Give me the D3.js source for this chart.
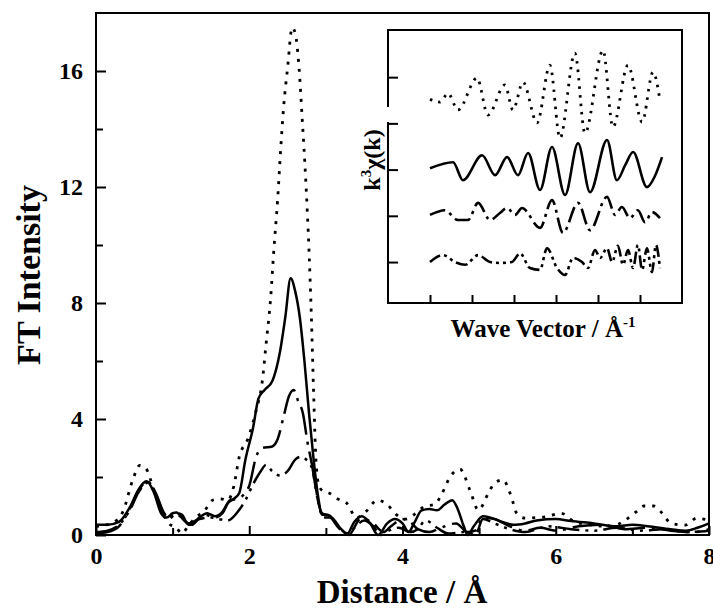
<!DOCTYPE html>
<meta charset="utf-8">
<script src="https://d3js.org/d3.v7.min.js"></script>
<style>
  body { margin: 0; background: #fff; }
  text { font-family: "Liberation Serif", "Times New Roman", serif; font-weight: bold; fill: #000; }
</style>
<div id="chart"></div>
<script>

// ---- main plot: FT magnitude vs distance, [r, |FT|] pairs ----
var ftDotted = [[0,0.3],[0.2,0.4],[0.35,0.8],[0.48,1.9],[0.57,2.4],[0.65,2.3],[0.75,1.6],[0.85,0.9],[0.95,0.4],
  [1.05,0.25],[1.12,0.05],[1.2,0.3],[1.3,0.6],[1.42,0.85],[1.52,1.2],[1.62,1.25],[1.72,1.2],[1.8,1.7],[1.87,2.7],
  [1.98,3.3],[2.09,4.3],[2.17,5.3],[2.22,6.6],[2.28,8.2],[2.32,9.8],[2.37,11.55],[2.41,13.3],[2.45,14.8],[2.5,16.1],
  [2.56,17.5],[2.6,17.3],[2.65,16.1],[2.69,14.4],[2.74,12.1],[2.78,9.8],[2.81,7.6],[2.84,4.9],[2.87,2.6],[2.91,1.7],
  [2.97,1.5],[3.04,1.45],[3.15,1.25],[3.27,1.1],[3.4,0.6],[3.52,0.8],[3.67,1.2],[3.8,1.05],[3.92,0.7],[4.05,0.55],
  [4.15,0.7],[4.3,1.0],[4.42,1.05],[4.51,1.4],[4.62,2.0],[4.75,2.27],[4.88,1.55],[4.99,0.86],[5.12,1.44],[5.2,1.79],
  [5.31,1.9],[5.42,1.32],[5.49,0.75],[5.6,0.58],[5.75,0.6],[5.87,0.63],[6.07,0.75],[6.24,0.46],[6.45,0.35],[6.72,0.29],
  [6.91,0.52],[7.05,0.8],[7.15,1.0],[7.28,1.0],[7.39,0.75],[7.5,0.41],[7.69,0.34],[7.84,0.58],[8.0,0.5]];

var ftSolid = [[0,0.35],[0.15,0.35],[0.3,0.45],[0.45,1.0],[0.55,1.55],[0.66,1.85],[0.75,1.5],[0.85,0.75],[0.92,0.6],
  [1.0,0.75],[1.05,0.78],[1.15,0.5],[1.25,0.35],[1.35,0.6],[1.45,0.75],[1.55,0.65],[1.65,0.8],[1.72,1.1],[1.8,1.25],
  [1.87,1.45],[1.95,2.6],[2.05,3.7],[2.12,4.7],[2.2,5.0],[2.3,5.3],[2.4,6.3],[2.47,7.5],[2.54,8.85],[2.6,8.4],
  [2.66,7.5],[2.72,6.0],[2.78,4.2],[2.84,2.6],[2.9,1.3],[2.95,0.7],[3.02,0.7],[3.1,0.55],[3.2,0.2],[3.28,0.05],
  [3.37,0.45],[3.47,0.65],[3.58,0.4],[3.68,0.0],[3.8,0.4],[3.9,0.55],[4.0,0.4],[4.08,0.1],[4.15,0.4],[4.25,0.85],
  [4.35,0.9],[4.45,0.85],[4.55,1.05],[4.65,1.2],[4.72,0.9],[4.8,0.3],[4.85,0.0],[4.93,0.3],[5.05,0.65],[5.15,0.6],
  [5.3,0.45],[5.45,0.35],[5.6,0.4],[5.75,0.5],[6.0,0.55],[6.2,0.48],[6.5,0.4],[6.8,0.3],[7.0,0.35],[7.2,0.3],
  [7.5,0.2],[7.7,0.15],[7.85,0.25],[8.0,0.4]];

var ftDashDot = [[0,0.05],[0.15,0.1],[0.3,0.3],[0.45,0.95],[0.55,1.5],[0.67,1.85],[0.78,1.45],[0.88,0.8],[0.95,0.55],
  [1.05,0.75],[1.12,0.7],[1.2,0.4],[1.3,0.5],[1.42,0.7],[1.55,0.6],[1.65,0.75],[1.75,1.2],[1.85,1.25],[1.93,1.4],
  [2.0,1.7],[2.09,2.7],[2.17,3.0],[2.3,3.05],[2.37,3.3],[2.45,4.1],[2.52,4.8],[2.58,5.0],[2.64,4.6],[2.7,4.2],
  [2.76,3.2],[2.82,2.4],[2.88,1.4],[2.95,0.75],[3.05,0.65],[3.15,0.35],[3.3,0.0],[3.45,0.55],[3.6,0.45],[3.75,0.1],
  [3.85,0.3],[4.0,0.55],[4.1,0.45],[4.2,0.2],[4.35,0.1],[4.5,0.25],[4.7,0.4],[4.85,0.1],[4.95,0.15],[5.05,0.6],
  [5.2,0.55],[5.4,0.3],[5.6,0.15],[5.8,0.25],[6.0,0.15],[6.3,0.3],[6.6,0.35],[6.9,0.2],[7.2,0.25],[7.5,0.15],
  [7.8,0.1],[8.0,0.2]];

var ftDashDotDot = [[0,0.1],[0.15,0.15],[0.3,0.35],[0.45,0.9],[0.55,1.45],[0.67,1.8],[0.78,1.4],[0.88,0.75],[0.95,0.6],
  [1.03,0.7],[1.12,0.6],[1.22,0.35],[1.35,0.55],[1.5,0.6],[1.6,0.55],[1.72,0.5],[1.85,0.8],[1.95,1.2],[2.05,1.75],
  [2.15,2.2],[2.22,2.42],[2.3,2.2],[2.4,2.05],[2.5,2.2],[2.6,2.6],[2.68,2.7],[2.76,2.55],[2.82,2.3],[2.87,1.6],
  [2.92,0.9],[2.97,0.6],[3.05,0.6],[3.15,0.3],[3.25,0.05],[3.35,0.2],[3.5,0.5],[3.62,0.3],[3.72,0.0],[3.82,0.15],
  [3.95,0.25],[4.1,0.1],[4.2,0.2],[4.3,0.5],[4.45,0.25],[4.6,0.05],[4.8,0.1],[4.95,0.0],[5.05,0.55],[5.2,0.4],
  [5.4,0.2],[5.6,0.1],[5.9,0.3],[6.2,0.2],[6.5,0.15],[6.8,0.25],[7.1,0.15],[7.4,0.2],[7.7,0.1],[8.0,0.15]];

var xTicks = [0, 2, 4, 6, 8];
var yTicks = [0, 4, 8, 12, 16];

// ---- inset: k^3 chi(k) vs k, [k, chi] pairs (before vertical offset) ----
var chiDotted = [[2.0,-0.03],[2.48,-0.09],[2.86,0.10],[3.33,-0.26],[4.24,0.43],[4.76,-0.37],[5.57,0.28],[5.95,-0.26],
  [6.43,0.34],[7.10,-0.54],[7.71,0.71],[8.19,-0.87],[8.90,0.97],[9.38,-0.76],[10.24,1.03],[10.71,-0.63],
  [11.43,0.71],[12.10,-0.52],[12.62,0.56],[12.95,-0.05]];
var chiSolid = [[2.0,0.03],[3.10,0.16],[3.57,-0.23],[4.48,0.31],[5.10,-0.12],[5.67,0.27],[6.19,-0.12],[6.67,0.36],
  [7.24,-0.44],[7.81,0.49],[8.43,-0.55],[9.05,0.57],[9.62,-0.49],[10.43,0.64],[10.90,-0.23],[11.3,0.1],[11.67,0.38],
  [12.33,-0.38],[12.7,-0.15],[13.05,0.27]];
var chiDashDot = [[2.0,0.02],[2.71,0.12],[3.33,-0.09],[3.81,-0.09],[4.29,0.28],[4.86,-0.09],[5.33,0.06],[5.67,0.17],
  [6.05,0.02],[6.38,0.17],[7.24,-0.26],[7.81,0.34],[8.33,-0.37],[9.05,0.28],[9.62,-0.31],[10.43,0.41],[10.81,0.02],
  [11.14,0.19],[11.52,-0.05],[11.90,0.12],[12.24,-0.14],[12.57,0.08],[12.95,-0.05]];
var chiDashDotDot = [[2.0,0],[2.62,0.15],[3.19,0],[3.67,-0.06],[4.29,0.15],[4.86,0],[5.33,-0.02],[5.90,0],[6.29,0.19],
  [6.76,-0.13],[7.24,-0.17],[7.57,0.30],[8.05,-0.13],[8.43,-0.28],[8.81,0.09],[9.24,0],[9.52,-0.13],[9.86,0.26],
  [10.10,0.09],[10.43,0.30],[10.67,0],[10.95,0.35],[11.19,-0.06],[11.43,0.26],[11.67,-0.13],[11.90,0.37],
  [12.10,-0.17],[12.33,0.30],[12.57,-0.22],[12.76,0.37],[12.95,-0.13]];
var insetOffsets = [3.55, 2, 1, 0];
var kTicks = [2, 4, 6, 8, 10, 12];
var chiTicks = [0, 1, 2, 3, 4];

var svg = d3.select("#chart").append("svg")
    .attr("width", 713)
    .attr("height", 611);

// main scales
var x = d3.scaleLinear().domain([0, 8]).range([96, 709]);
var y = d3.scaleLinear().domain([0, 18]).range([535, 13]);

var styles = [
  {dash: "3,7", width: 2.8},
  {dash: null, width: 2.5},
  {dash: "28,7,3,7", width: 2.5},
  {dash: "22,6,3,6,3,6", width: 2.5}
];

var line = d3.line()
    .x(function(d) { return x(d[0]); })
    .y(function(d) { return y(d[1]); })
    .curve(d3.curveMonotoneX);

[ftDotted, ftSolid, ftDashDot, ftDashDotDot].forEach(function(s, i) {
  svg.append("path")
      .attr("d", line(s))
      .attr("fill", "none")
      .attr("stroke", "#000")
      .attr("stroke-width", styles[i].width)
      .attr("stroke-dasharray", styles[i].dash);
});

// frame
svg.append("rect")
    .attr("x", 96).attr("y", 13)
    .attr("width", 709 - 96).attr("height", 535 - 13)
    .attr("fill", "none").attr("stroke", "#000").attr("stroke-width", 2);

// axes with inward ticks
svg.append("g")
    .attr("transform", "translate(96,0)")
    .call(d3.axisLeft(y).tickValues(yTicks).tickSize(-10).tickPadding(13));
svg.append("g")
    .attr("transform", "translate(96,0)")
    .call(d3.axisLeft(y).tickValues([2, 6, 10, 14]).tickSize(-7).tickFormat(""));
svg.append("g")
    .attr("transform", "translate(0,535)")
    .call(d3.axisBottom(x).tickValues(xTicks).tickSize(-9).tickPadding(12));
svg.append("g")
    .attr("transform", "translate(0,535)")
    .call(d3.axisBottom(x).tickValues([1, 3, 5, 7]).tickSize(-7).tickFormat(""));
svg.selectAll(".domain").remove();
svg.selectAll(".tick line").attr("stroke", "#000").attr("stroke-width", 2);
svg.selectAll(".tick text")
    .style("font-family", '"Liberation Serif", "Times New Roman", serif')
    .style("font-weight", "bold")
    .style("font-size", "24px")
    .attr("fill", "#000");

svg.append("text")
    .attr("transform", "translate(40,275) rotate(-90)")
    .attr("text-anchor", "middle")
    .style("font-size", "34px")
    .text("FT Intensity");

svg.append("text")
    .attr("x", 402).attr("y", 603)
    .attr("text-anchor", "middle")
    .style("font-size", "33px")
    .text("Distance / Å");

// ---- inset ----
var kx = d3.scaleLinear().domain([0, 14]).range([388, 682]);
var ky = d3.scaleLinear().domain([-0.886, 5.02]).range([303, 30]);

var insetStyles = [
  {dash: "2.5,6", width: 2.8},
  {dash: null, width: 2.6},
  {dash: "16,5,3,5", width: 2.6},
  {dash: "12,4,3,4,3,4", width: 2.6}
];

[chiDotted, chiSolid, chiDashDot, chiDashDotDot].forEach(function(s, i) {
  var off = insetOffsets[i];
  var l = d3.line()
      .x(function(d) { return kx(d[0]); })
      .y(function(d) { return ky(d[1] + off); })
      .curve(d3.curveMonotoneX);
  svg.append("path")
      .attr("d", l(s))
      .attr("fill", "none")
      .attr("stroke", "#000")
      .attr("stroke-width", insetStyles[i].width)
      .attr("stroke-dasharray", insetStyles[i].dash);
});

svg.append("rect")
    .attr("x", 388).attr("y", 30)
    .attr("width", 682 - 388).attr("height", 303 - 30)
    .attr("fill", "none").attr("stroke", "#000").attr("stroke-width", 2);

svg.append("g")
    .attr("transform", "translate(388,0)")
    .call(d3.axisLeft(ky).tickValues(chiTicks).tickSize(-10).tickFormat(""));
svg.append("g")
    .attr("transform", "translate(0,303)")
    .call(d3.axisBottom(kx).tickValues(kTicks).tickSize(-8).tickFormat(""));
svg.selectAll(".domain").remove();
svg.selectAll(".tick line").attr("stroke", "#000").attr("stroke-width", 2);

// gap in the inset's left edge, as in the scan
svg.append("rect")
    .attr("x", 385).attr("y", 107)
    .attr("width", 6).attr("height", 15)
    .attr("fill", "#fff");

var kLabel = svg.append("text")
    .attr("transform", "translate(380,160) rotate(-90)")
    .attr("text-anchor", "middle")
    .style("font-size", "24px");
kLabel.append("tspan").text("k");
kLabel.append("tspan").attr("dy", -9).style("font-size", "15px").text("3");
kLabel.append("tspan").attr("dy", 9).text("χ(k)");

var wLabel = svg.append("text")
    .attr("x", 543).attr("y", 337)
    .attr("text-anchor", "middle")
    .style("font-size", "25px");
wLabel.append("tspan").text("Wave Vector / Å");
wLabel.append("tspan").attr("dy", -10).style("font-size", "15px").text("-1");

</script>
